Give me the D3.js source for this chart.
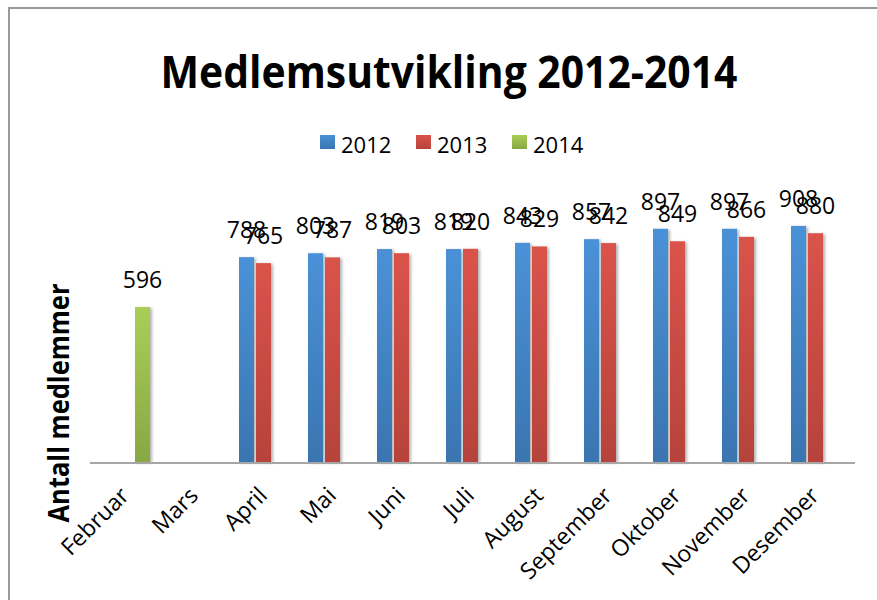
<!DOCTYPE html>
<html>
<head>
<meta charset="utf-8">
<script src="https://cdn.jsdelivr.net/npm/d3@7"></script>
<style>
    html, body { margin: 0; padding: 0; background: #ffffff; }
    svg { display: block; font-family: 'Open Sans', sans-serif; }
</style>
</head>
<body>
<div id="chart"></div>
<script>

// data

var months = [ 'Februar', 'Mars', 'April', 'Mai', 'Juni', 'Juli', 'August', 'September', 'Oktober', 'November', 'Desember' ];
var seriesNames = [ '2012', '2013', '2014' ];

var values2012 = [ null, null, 788, 803, 819, 819, 843, 857, 897, 897, 908 ];
var values2013 = [ null, null, 765, 787, 803, 820, 829, 842, 849, 866, 880 ];
var values2014 = [ 596, null, null, null, null, null, null, null, null, null, null ];

var seriesValues = [ values2012, values2013, values2014 ];

var colorsTop = [ '#4b91d7', '#da534b', '#a9ce57' ];
var colorsBottom = [ '#3a75b0', '#b6433b', '#88a843' ];

var width = 877,
    height = 600;

var svg = d3.select('#chart').append('svg')
    .attr('width', width)
    .attr('height', height);

var defs = svg.append('defs');

/* gradients + shadow */

seriesNames.forEach( function ( name, i ) {

    var grad = defs.append('linearGradient')
        .attr('id', 'grad' + i)
        .attr('x1', 0).attr('y1', 0)
        .attr('x2', 0).attr('y2', 1);

    grad.append('stop').attr('offset', '0%').attr('stop-color', colorsTop[ i ]);
    grad.append('stop').attr('offset', '100%').attr('stop-color', colorsBottom[ i ]);

});

var filter = defs.append('filter')
    .attr('id', 'barshadow')
    .attr('x', '-20%').attr('y', '-5%')
    .attr('width', '160%').attr('height', '115%');

filter.append('feDropShadow')
    .attr('dx', 2)
    .attr('dy', 1)
    .attr('stdDeviation', 1.6)
    .attr('flood-color', '#000000')
    .attr('flood-opacity', 0.3);

// frame (only left and top edge are visible)

svg.append('line')
    .attr('x1', 9).attr('y1', 7)
    .attr('x2', 9).attr('y2', height)
    .style('stroke', '#9a9a9a')
    .style('stroke-width', 2);

svg.append('line')
    .attr('x1', 8).attr('y1', 8)
    .attr('x2', width).attr('y2', 8)
    .style('stroke', '#9a9a9a')
    .style('stroke-width', 2);

// title

svg.append('text')
    .attr('x', 449)
    .attr('y', 88)
    .attr('text-anchor', 'middle')
    .attr('textLength', 577)
    .attr('lengthAdjust', 'spacingAndGlyphs')
    .style('font-size', '44px')
    .style('font-weight', 'bold')
    .style('fill', '#000000')
    .text('Medlemsutvikling 2012-2014');

// legend

var legend = svg.append('g')
    .attr('transform', 'translate(320,135)');

var legendItem = legend.selectAll('.legend-item')
    .data( seriesNames )
    .enter().append('g')
    .attr('class', 'legend-item')
    .attr('transform', function ( d, i ) { return 'translate(' + ( i * 96 ) + ',0)'; });

legendItem.append('rect')
    .attr('width', 15)
    .attr('height', 14)
    .style('fill', function ( d, i ) { return 'url(#grad' + i + ')'; });

legendItem.append('text')
    .attr('x', 21)
    .attr('y', 18)
    .style('font-size', '22px')
    .style('fill', '#000000')
    .text( function ( d ) { return d; });

// scales

var x0 = d3.scaleBand()
    .domain( months )
    .range([ 91, 850 ]);

var x1 = d3.scaleBand()
    .domain( seriesNames )
    .range([ 9, 60 ]);

var y = d3.scaleLinear()
    .domain([ 0, 1000 ])
    .range([ 462, 202 ]);

// bars

var bars = [];

seriesValues.forEach( function ( vals, s ) {

    vals.forEach( function ( v, m ) {

        if ( v !== null ) {

            bars.push({ month: months[ m ], series: seriesNames[ s ], index: s, value: v });

        }

    });

});

svg.append('g')
    .selectAll('rect')
    .data( bars )
    .enter().append('rect')
    .attr('x', function ( d ) { return x0( d.month ) + x1( d.series ) + 1; })
    .attr('y', function ( d ) { return y( d.value ); })
    .attr('width', x1.bandwidth() - 2)
    .attr('height', function ( d ) { return y( 0 ) - y( d.value ); })
    .style('fill', function ( d ) { return 'url(#grad' + d.index + ')'; })
    .attr('filter', 'url(#barshadow)');

// axis line

svg.append('line')
    .attr('x1', 90)
    .attr('x2', 855)
    .attr('y1', y( 0 ) + 1)
    .attr('y2', y( 0 ) + 1)
    .style('stroke', '#a6a6a6')
    .style('stroke-width', 2);

// value labels

svg.append('g')
    .selectAll('text')
    .data( bars )
    .enter().append('text')
    .attr('x', function ( d ) { return x0( d.month ) + x1( d.series ) + x1.bandwidth() / 2; })
    .attr('y', function ( d ) { return y( d.value ) - 19; })
    .attr('text-anchor', 'middle')
    .style('font-size', '23px')
    .style('fill', '#000000')
    .text( function ( d ) { return d.value; });

// category labels

svg.append('g')
    .selectAll('text')
    .data( months )
    .enter().append('text')
    .attr('transform', function ( d ) {
        return 'translate(' + ( x0( d ) + x0.bandwidth() / 2 + 5 ) + ',497) rotate(-45)';
    })
    .attr('text-anchor', 'end')
    .style('font-size', '23px')
    .style('fill', '#000000')
    .text( function ( d ) { return d; });

// y axis title

svg.append('text')
    .attr('transform', 'translate(69,403) rotate(-90)')
    .attr('text-anchor', 'middle')
    .attr('textLength', 239)
    .attr('lengthAdjust', 'spacingAndGlyphs')
    .style('font-size', '28px')
    .style('font-weight', 'bold')
    .style('fill', '#000000')
    .text('Antall medlemmer');

</script>
</body>
</html>
